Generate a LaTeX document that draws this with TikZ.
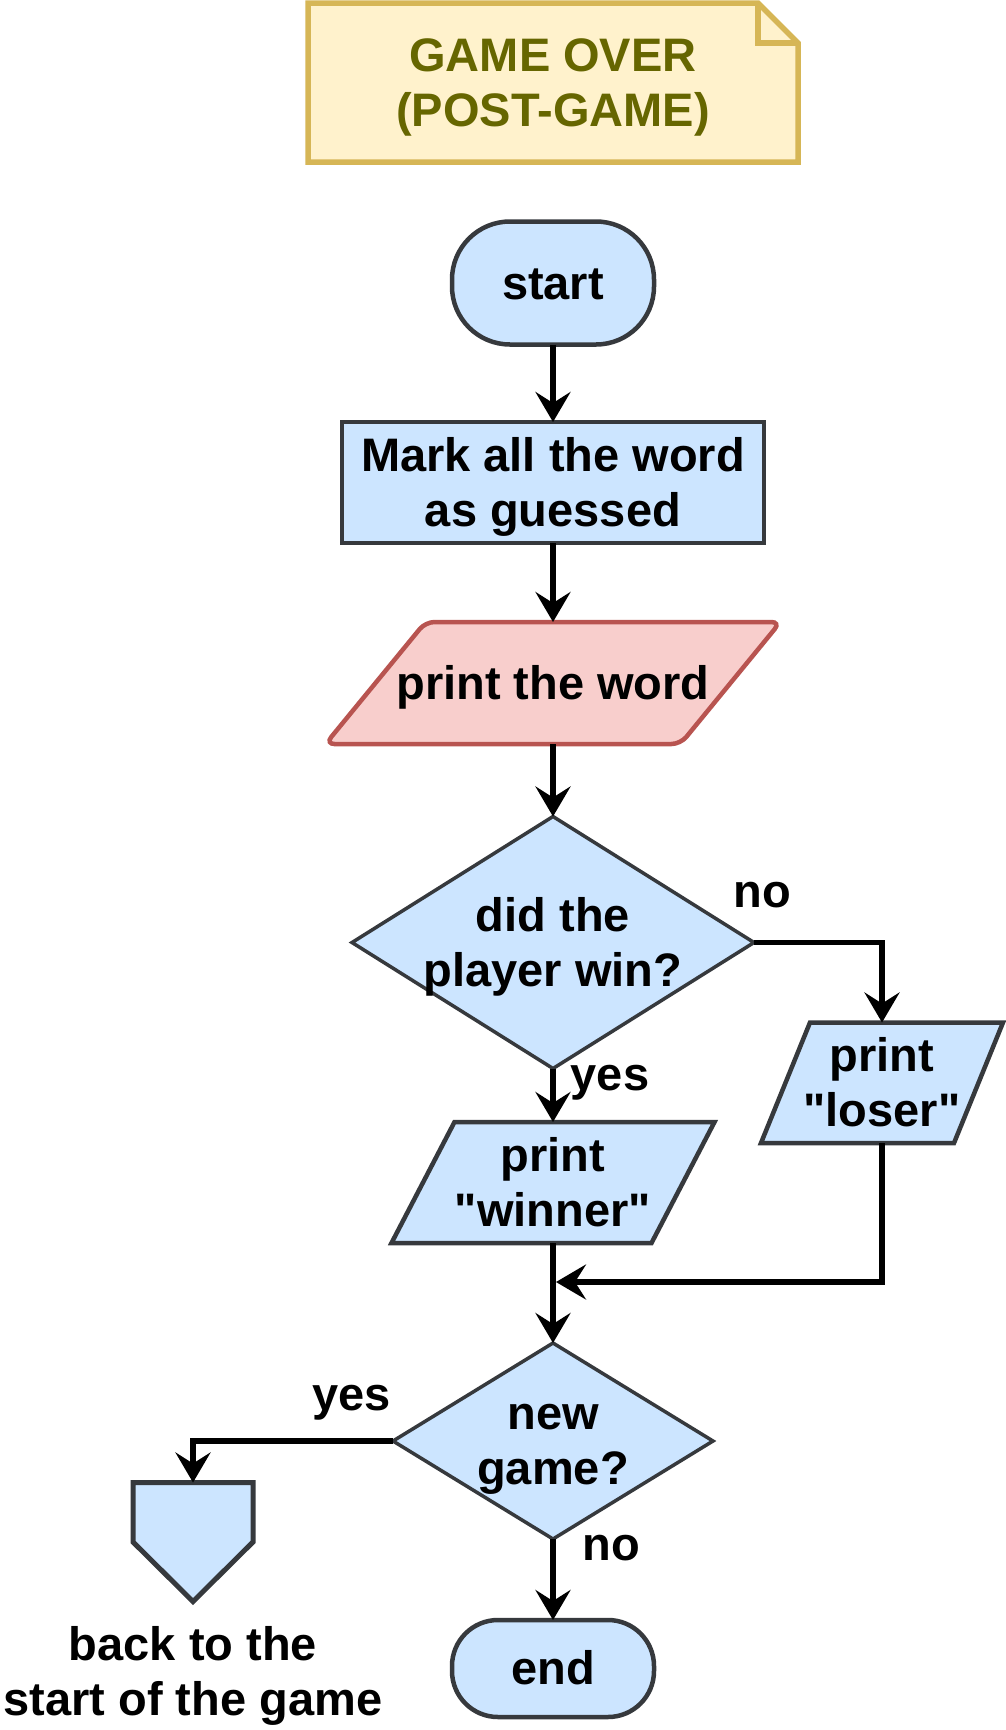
\documentclass[tikz,border=0pt]{standalone}
\usepackage{fontspec}
\setmainfont{Liberation Sans}[Ligatures=TeXOff]
\usetikzlibrary{arrows.meta}
\pgfdeclarelayer{bg}
\pgfsetlayers{bg,main}
\definecolor{bfill}{HTML}{CCE5FF}
\definecolor{bline}{HTML}{36393D}
\definecolor{rfill}{HTML}{F8CECC}
\definecolor{rline}{HTML}{B85450}
\definecolor{nfill}{HTML}{FFF2CC}
\definecolor{nline}{HTML}{D6B656}
\definecolor{ntext}{HTML}{666600}
\newcommand{\sr}{\rule[-11.2pt]{0pt}{55pt}}
\begin{document}
\begin{tikzpicture}[x=1pt,y=-1pt,
  box/.style={draw=none,inner sep=0pt,outer sep=0pt,align=center,font=\bfseries\fontsize{47}{55}\selectfont},
  lbl/.style={inner sep=0pt,anchor=base,font=\bfseries\fontsize{47}{55}\selectfont},
  shp/.style={fill=bfill,draw=bline,line width=4.5pt},
  conn/.style={draw=black,line width=5.5pt,-{Stealth[length=30pt 0 0,width=35pt 0 0,inset=11pt 0 0]}}
]
\useasboundingbox (0,0) rectangle (1006,1730);

% nodes (text holders with exact sizes)
\node[box,minimum width=490pt,minimum height=159pt,text=ntext] (note) at (553,82.5) {\sr GAME OVER\\\sr (POST-GAME)};
\node[box,minimum width=202pt,minimum height=123pt] (start) at (553,283) {\sr start};
\node[box,minimum width=422pt,minimum height=121pt] (proc) at (553,482.5) {\sr Mark all the word\\\sr as guessed};
\node[box,minimum width=455pt,minimum height=122pt] (pw) at (553,683) {\sr print the word};
\node[box,minimum width=402pt,minimum height=252pt] (d1) at (553,942.5) {\sr did the\\\sr player win?};
\node[box,minimum width=323pt,minimum height=121pt] (win) at (553,1182.5) {\sr print\\\sr "winner"};
\node[box,minimum width=242pt,minimum height=120.5pt] (lose) at (882,1082.75) {\sr print\\\sr "loser"};
\node[box,minimum width=320pt,minimum height=196pt] (d2) at (553,1441) {\sr new\\\sr game?};
\node[box,minimum width=120pt,minimum height=119pt] (back) at (193,1542) {};
\node[box] (backlbl) at (193,1671.5) {\sr back to the\\\sr start of the game};
\node[box,minimum width=202pt,minimum height=97pt] (end) at (553,1668.5) {\sr end};

% shapes behind the text
\begin{pgfonlayer}{bg}
\draw[fill=nfill,draw=nline,line width=5.5pt] (note.north west) -- ([xshift=-40pt]note.north east) -- ([yshift=-40pt]note.north east) -- (note.south east) -- (note.south west) -- cycle;
\draw[draw=nline,line width=5.5pt] ([xshift=-40pt]note.north east) -- ([xshift=-40pt,yshift=-40pt]note.north east) -- ([yshift=-40pt]note.north east);
\draw[shp,rounded corners=58pt] (start.north west) rectangle (start.south east);
\draw[shp,line width=4pt] (proc.north west) rectangle (proc.south east);
\draw[fill=rfill,draw=rline,line width=4.5pt,rounded corners=9pt] (pw.north) -- (pw.north east) -- ([xshift=-100pt]pw.south east) -- (pw.south west) -- ([xshift=100pt]pw.north west) -- cycle;
\draw[shp,line width=3.5pt] (d1.north) -- (d1.east) -- (d1.south) -- (d1.west) -- cycle;
\draw[shp] ([xshift=63pt]win.north west) -- (win.north east) -- ([xshift=-63pt]win.south east) -- (win.south west) -- cycle;
\draw[shp] ([xshift=49pt]lose.north west) -- (lose.north east) -- ([xshift=-49pt]lose.south east) -- (lose.south west) -- cycle;
\draw[shp,line width=3.5pt] (d2.north) -- (d2.east) -- (d2.south) -- (d2.west) -- cycle;
\draw[shp,line width=5pt] (back.north west) -- (back.north east) -- (back.east) -- (back.south) -- (back.west) -- cycle;
\draw[shp,rounded corners=46pt] (end.north west) rectangle (end.south east);
\end{pgfonlayer}

% connectors
\coordinate (mrg) at (556,1282);
\draw[conn] (start.south) -- (proc.north);
\draw[conn] (proc.south) -- (pw.north);
\draw[conn] (pw.south) -- (d1.north);
\draw[conn] (d1.south) -- (win.north);
\draw[conn] (d1.east) -| (lose.north);
\draw[conn] (win.south) -- (d2.north);
\draw[conn] (lose.south) |- (mrg);
\draw[conn] (d2.west) -| (back.north);
\draw[conn] (d2.south) -- (end.north);

% connector labels
\node[lbl] (yes1) at (610,1090) {yes};
\node[lbl] (no1) at (762,907) {no};
\node[lbl] (yes2) at (351.5,1410) {yes};
\node[lbl] (no2) at (611.5,1560) {no};
\end{tikzpicture}
\end{document}
